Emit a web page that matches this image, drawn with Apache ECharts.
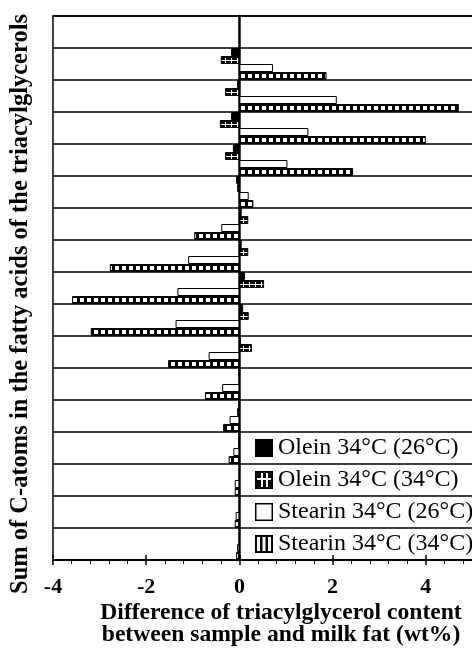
<!DOCTYPE html>
<html>
<head>
<meta charset="utf-8">
<script src="https://cdn.jsdelivr.net/npm/echarts@6/dist/echarts.min.js"></script>
<style>
  html, body { margin: 0; padding: 0; background: #fff; }
  #chart { width: 472px; height: 648px; }
</style>
</head>
<body>
<div id="chart"></div>
<script>
// Triacylglycerol groups by total carbon number, listed top to bottom
const carbonNumbers = ['C56', 'C54', 'C52', 'C50', 'C48', 'C46', 'C44', 'C42', 'C40',
                       'C38', 'C36', 'C34', 'C32', 'C30', 'C28', 'C26', 'C24'];

// Difference to milk fat (wt%) per fraction
const oleinAt26   = [0, -0.18, -0.05, -0.18, -0.14, -0.07, 0.05, 0.05, 0.12, 0.08, 0.03, -0.02, -0.03, -0.02, 0, 0, 0];
const oleinAt34   = [0, -0.40, -0.31, -0.42, -0.31, -0.05, 0.19, 0.19, 0.53, 0.20, 0.27, 0, -0.05, -0.03, 0, 0, 0];
const stearinAt26 = [0, 0.72, 2.09, 1.48, 1.03, 0.20, -0.39, -1.10, -1.33, -1.37, -0.66, -0.37, -0.21, -0.13, -0.10, -0.08, -0.05];
const stearinAt34 = [0, 1.87, 4.71, 4.00, 2.44, 0.30, -0.97, -2.78, -3.59, -3.19, -1.53, -0.74, -0.35, -0.23, -0.10, -0.10, -0.07];

const seriesNames = ['Olein 34°C (26°C)', 'Olein 34°C (34°C)', 'Stearin 34°C (26°C)', 'Stearin 34°C (34°C)'];

const xMin = -4, xMax = 6, xStep = 2;

function tile(w, h, draw) {
  const c = document.createElement('canvas');
  c.width = w; c.height = h;
  draw(c.getContext('2d'));
  return c;
}

// Fill patterns for the bars
const crossTile = tile(6, 8, g => {
  g.fillStyle = '#000'; g.fillRect(0, 0, 6, 8);
  g.fillStyle = '#fff'; g.fillRect(0, 4, 6, 1); g.fillRect(3, 2, 1, 5);
});
const stripeTile = tile(7, 8, g => {
  g.fillStyle = '#fff'; g.fillRect(0, 0, 7, 8);
  g.fillStyle = '#000'; g.fillRect(0, 0, 7, 2); g.fillRect(0, 6, 7, 2); g.fillRect(0, 0, 3, 8);
});

// Legend swatches
const iconBlack = tile(18, 18, g => { g.fillStyle = '#000'; g.fillRect(0, 0, 18, 18); });
const iconCross = tile(18, 18, g => {
  g.fillStyle = '#000'; g.fillRect(0, 0, 18, 18);
  g.fillStyle = '#fff';
  g.fillRect(2, 7, 14, 2);
  g.fillRect(6, 2, 2, 14);
  g.fillRect(11, 2, 2, 14);
});
const iconWhite = tile(18, 18, g => {
  g.fillStyle = '#000'; g.fillRect(0, 0, 18, 18);
  g.fillStyle = '#fff'; g.fillRect(1.5, 1.5, 15, 15);
});
const iconStripe = tile(18, 18, g => {
  g.fillStyle = '#000'; g.fillRect(0, 0, 18, 18);
  g.fillStyle = '#fff';
  g.fillRect(2, 2, 3, 14);
  g.fillRect(7.5, 2, 3, 14);
  g.fillRect(13, 2, 3, 14);
});
const icons = [iconBlack, iconCross, iconWhite, iconStripe].map(c => 'image://' + c.toDataURL());

const fills = [
  '#000',
  { image: crossTile, repeat: 'repeat' },
  '#fff',
  { image: stripeTile, repeat: 'repeat' }
];
const values = [oleinAt26, oleinAt34, stearinAt26, stearinAt34];

const serif = '"Liberation Serif", "Times New Roman", serif';

const chart = echarts.init(document.getElementById('chart'), null, { renderer: 'canvas' });

chart.setOption({
  animation: false,
  backgroundColor: '#fff',
  grid: {
    left: 53, top: 16, bottom: 88, right: -47,
    outerBoundsMode: 'none',
    containLabel: false,
    show: true, borderColor: '#000', borderWidth: 1.5, backgroundColor: 'transparent'
  },
  legend: {
    orient: 'vertical',
    left: 255, top: 436,
    itemWidth: 18, itemHeight: 18, itemGap: 8,
    data: seriesNames.map((n, i) => ({ name: n, icon: icons[i] })),
    textStyle: { fontFamily: serif, fontSize: 24, lineHeight: 24, color: '#000', padding: [0, 0, 0, 0] },
    padding: 0,
    selectedMode: false
  },
  xAxis: [
    {
      type: 'value', min: xMin, max: xMax, interval: xStep,
      position: 'bottom',
      axisLine: { show: true, onZero: false, lineStyle: { color: '#000', width: 1.5 } },
      axisTick: { show: true, length: 5, lineStyle: { color: '#000', width: 1.5 } },
      minorTick: { show: true, splitNumber: 5, length: 4, lineStyle: { color: '#000', width: 1 } },
      splitLine: { show: false },
      minorSplitLine: { show: false },
      axisLabel: { fontFamily: serif, fontWeight: 'bold', fontSize: 22, color: '#000', margin: 16 }
    },
    {
      type: 'value', min: xMin, max: xMax, interval: xStep,
      position: 'bottom',
      axisLine: { show: false, onZero: false },
      axisTick: { show: true, inside: true, length: 5, lineStyle: { color: '#000', width: 1.5 } },
      splitLine: { show: false },
      axisLabel: { show: false }
    }
  ],
  yAxis: {
    type: 'category',
    data: carbonNumbers,
    inverse: true,
    axisLine: { show: true, onZero: true, lineStyle: { color: '#000', width: 2.5 } },
    axisTick: { show: false },
    axisLabel: { show: false },
    splitLine: { show: true, lineStyle: { color: '#000', width: 1.5 } }
  },
  graphic: [
    {
      type: 'text', x: 21, y: 304, rotation: Math.PI / 2,
      style: {
        text: 'Sum of C-atoms in the fatty acids of the triacylglycerols',
        fontFamily: serif, fontWeight: 'bold', fontSize: 24.5, fill: '#000',
        align: 'center', verticalAlign: 'middle'
      }
    },
    {
      type: 'text', x: 281, y: 624,
      style: {
        text: 'Difference of triacylglycerol content\nbetween sample and milk fat (wt%)',
        fontFamily: serif, fontWeight: 'bold', fontSize: 23.6, lineHeight: 22, fill: '#000',
        align: 'center', verticalAlign: 'middle'
      }
    }
  ],
  series: seriesNames.map((name, i) => ({
    name,
    type: 'bar',
    xAxisIndex: 0,
    data: values[i],
    barGap: '0%',
    barCategoryGap: '0%',
    itemStyle: { color: fills[i], borderColor: '#000', borderWidth: 1 },
    emphasis: { disabled: true }
  }))
});
</script>
</body>
</html>
